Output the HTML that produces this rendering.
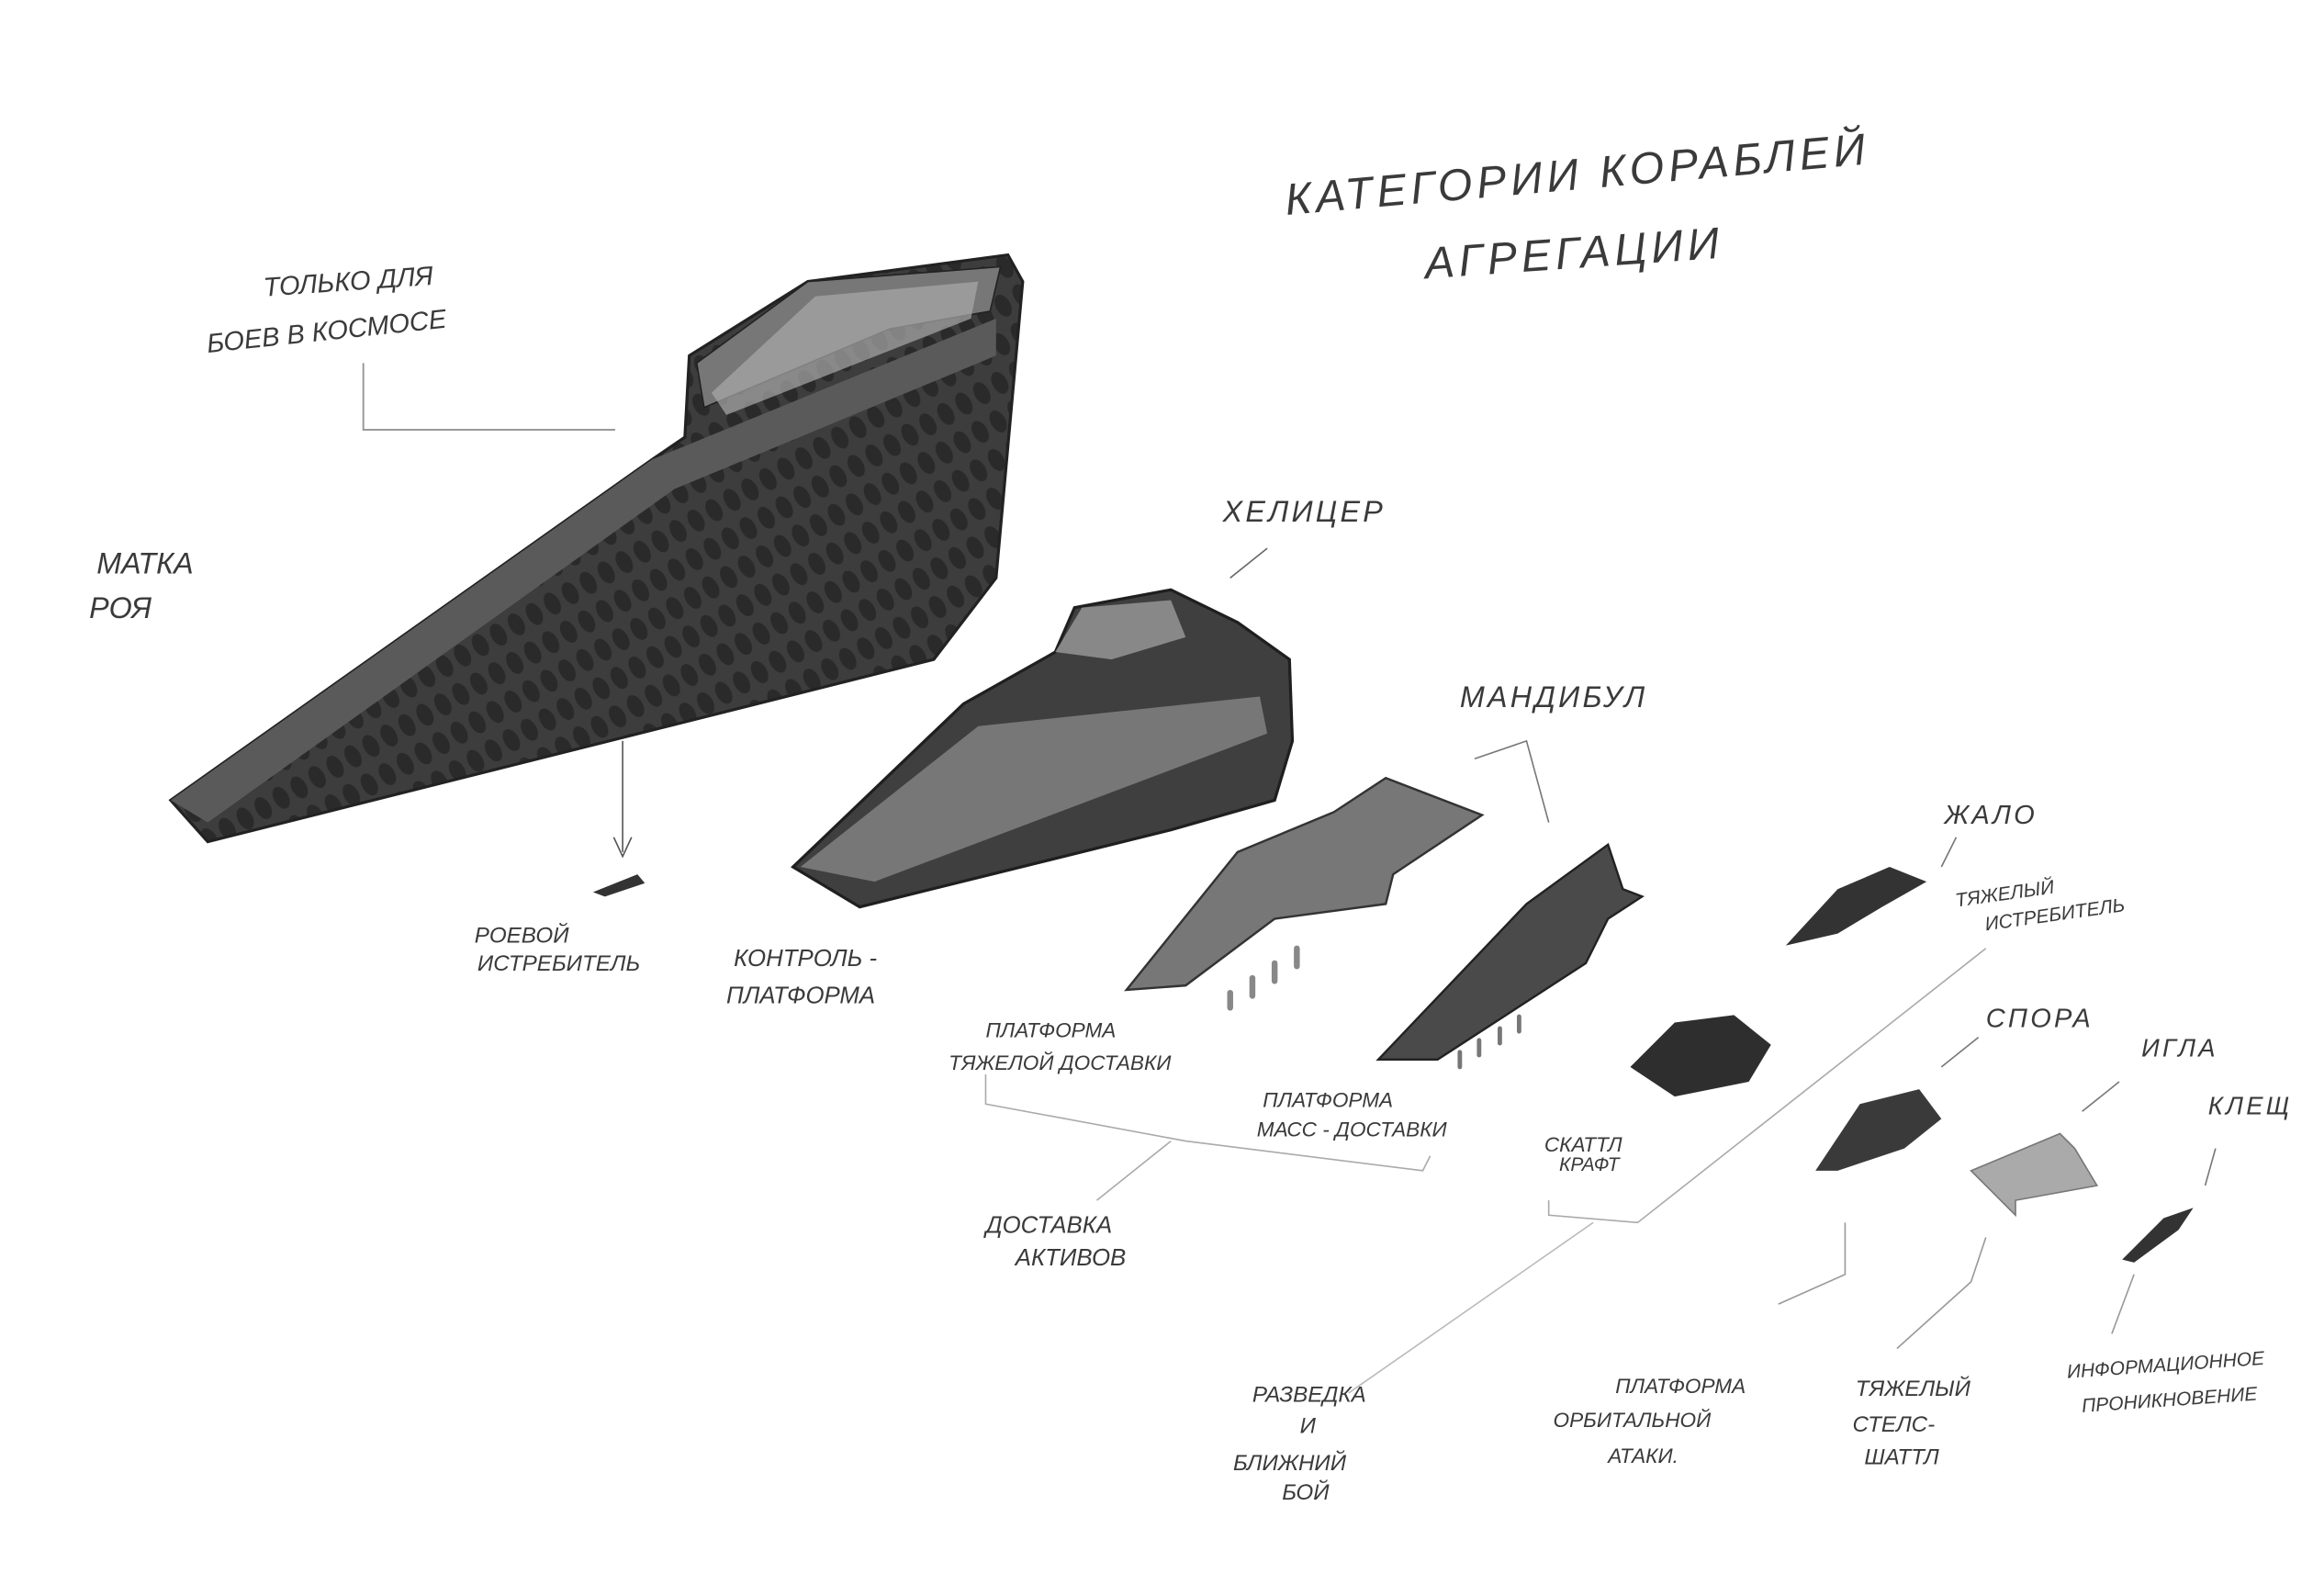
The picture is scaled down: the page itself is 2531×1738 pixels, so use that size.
<!DOCTYPE html>
<html><head><meta charset="utf-8"><style>
html,body{margin:0;padding:0;background:#fff;}
svg{display:block;}
text{font-family:"Liberation Sans","Noto Sans CJK SC",sans-serif;fill:#3a3a3a;font-style:italic;}
</style></head><body>
<svg width="2531" height="1738" viewBox="0 0 1568 1077" xmlns="http://www.w3.org/2000/svg">
<defs>
<pattern id="sc" width="14" height="22" patternUnits="userSpaceOnUse" patternTransform="rotate(-30)">
<rect width="14" height="22" fill="#3d3d3d"/>
<ellipse cx="7" cy="11" rx="5" ry="8" fill="#2a2a2a"/>
</pattern>
</defs>
<rect width="1568" height="1077" fill="#fff"/>
<!-- titles -->
<text x="868" y="145" font-size="30" transform="rotate(-5 868 145)" letter-spacing="3">КАТЕГОРИИ КОРАБЛЕЙ</text>
<text x="962" y="188" font-size="30" transform="rotate(-4 962 188)" letter-spacing="3">АГРЕГАЦИИ</text>
<text x="178" y="200" font-size="18" transform="rotate(-4 178 200)">ТОЛЬКО ДЛЯ</text>
<text x="140" y="238" font-size="18" transform="rotate(-6 140 238)">БОЕВ В КОСМОСЕ</text>
<polyline points="245,245 245,290 415,290" fill="none" stroke="#999" stroke-width="1.2"/>
<text x="65" y="387" font-size="20">МАТКА</text>
<text x="60" y="417" font-size="20">РОЯ</text>
<!-- mother ship -->
<polygon points="115,540 440,310 462,295 465,240 545,190 680,172 690,190 672,390 630,445 140,568" fill="url(#sc)" stroke="#222" stroke-width="2"/>
<polygon points="115,540 440,310 672,215 672,240 455,330 140,555" fill="#5a5a5a"/>
<polygon points="470,245 545,190 675,180 668,210 600,222 475,275" fill="#777" stroke="#222"/>
<polygon points="480,265 550,200 660,190 655,215 490,280" fill="#aaa" opacity="0.7"/>
<line x1="420" y1="500" x2="420" y2="575" stroke="#555"/>
<polyline points="414,565 420,578 426,565" fill="none" stroke="#555"/>
<polygon points="400,602 430,590 435,596 408,605" fill="#333"/>
<text x="320" y="636" font-size="15">РОЕВОЙ</text>
<text x="322" y="655" font-size="15">ИСТРЕБИТЕЛЬ</text>
<!-- control platform -->
<polygon points="535,585 650,475 712,440 725,410 790,398 835,420 870,445 872,500 860,540 790,560 580,612" fill="#3f3f3f" stroke="#1f1f1f" stroke-width="2"/>
<polygon points="540,585 660,490 850,470 855,495 590,595" fill="#777"/>
<polygon points="712,440 730,410 790,405 800,430 750,445" fill="#888"/>
<text x="825" y="352" font-size="20" letter-spacing="2">ХЕЛИЦЕР</text>
<line x1="855" y1="370" x2="830" y2="390" stroke="#666"/>
<text x="495" y="652" font-size="16">КОНТРОЛЬ -</text>
<text x="490" y="677" font-size="16">ПЛАТФОРМА</text>
<!-- heavy delivery -->
<polygon points="760,668 835,575 900,548 935,525 1000,550 940,590 935,610 860,620 800,665" fill="#777" stroke="#333" stroke-width="1.5"/>
<g stroke="#888" stroke-width="4" stroke-linecap="round"><line x1="830" y1="670" x2="830" y2="680"/><line x1="845" y1="660" x2="845" y2="672"/><line x1="860" y1="650" x2="860" y2="662"/><line x1="875" y1="640" x2="875" y2="652"/></g>
<text x="665" y="700" font-size="14">ПЛАТФОРМА</text>
<text x="640" y="722" font-size="14">ТЯЖЕЛОЙ ДОСТАВКИ</text>
<!-- mass delivery -->
<polygon points="930,715 1030,610 1085,570 1095,600 1108,605 1085,620 1070,650 970,715" fill="#4a4a4a" stroke="#222" stroke-width="1.5"/>
<g stroke="#777" stroke-width="3" stroke-linecap="round"><line x1="985" y1="710" x2="985" y2="720"/><line x1="998" y1="702" x2="998" y2="712"/><line x1="1012" y1="694" x2="1012" y2="704"/><line x1="1025" y1="686" x2="1025" y2="696"/></g>
<text x="985" y="477" font-size="20" letter-spacing="2">МАНДИБУЛ</text>
<polyline points="995,512 1030,500 1045,555" fill="none" stroke="#777"/>
<text x="852" y="747" font-size="14">ПЛАТФОРМА</text>
<text x="848" y="767" font-size="14">МАСС - ДОСТАВКИ</text>
<polyline points="665,725 665,745 800,770 960,790 965,780" fill="none" stroke="#aaa"/>
<line x1="790" y1="770" x2="740" y2="810" stroke="#aaa"/>
<text x="665" y="832" font-size="16">ДОСТАВКА</text>
<text x="685" y="854" font-size="16">АКТИВОВ</text>
<!-- жало -->
<polygon points="1205,638 1240,600 1275,585 1300,595 1270,612 1240,630" fill="#333"/>
<text x="1312" y="556" font-size="18" letter-spacing="2">ЖАЛО</text>
<line x1="1320" y1="565" x2="1310" y2="585" stroke="#777"/>
<text x="1320" y="612" font-size="13" transform="rotate(-8 1320 612)">ТЯЖЕЛЫЙ</text>
<text x="1340" y="628" font-size="13" transform="rotate(-8 1340 628)">ИСТРЕБИТЕЛЬ</text>
<!-- scuttle -->
<polygon points="1100,720 1130,690 1170,685 1195,705 1180,730 1130,740" fill="#2e2e2e"/>
<text x="1042" y="777" font-size="14">СКАТТЛ</text>
<text x="1052" y="790" font-size="13">КРАФТ</text>
<polyline points="1045,810 1045,820 1105,825 1340,640" fill="none" stroke="#aaa"/>
<line x1="1075" y1="825" x2="910" y2="940" stroke="#bbb"/>
<text x="845" y="946" font-size="15">РАЗВЕДКА</text>
<text x="877" y="967" font-size="15">И</text>
<text x="832" y="992" font-size="15">БЛИЖНИЙ</text>
<text x="865" y="1012" font-size="15">БОЙ</text>
<!-- spora -->
<polygon points="1225,790 1255,745 1295,735 1310,755 1285,775 1240,790" fill="#3a3a3a"/>
<text x="1340" y="693" font-size="18" letter-spacing="2">СПОРА</text>
<line x1="1335" y1="700" x2="1310" y2="720" stroke="#777"/>
<polyline points="1245,825 1245,860 1200,880" fill="none" stroke="#999"/>
<text x="1090" y="940" font-size="14">ПЛАТФОРМА</text>
<text x="1048" y="963" font-size="14">ОРБИТАЛЬНОЙ</text>
<text x="1085" y="987" font-size="14">АТАКИ.</text>
<!-- игла -->
<polygon points="1330,790 1390,765 1400,775 1415,800 1360,810 1360,820" fill="#aaa" stroke="#777"/>
<text x="1445" y="713" font-size="17" letter-spacing="2">ИГЛА</text>
<line x1="1430" y1="730" x2="1405" y2="750" stroke="#777"/>
<polyline points="1340,835 1330,865 1280,910" fill="none" stroke="#999"/>
<text x="1252" y="942" font-size="15">ТЯЖЕЛЫЙ</text>
<text x="1250" y="966" font-size="15">СТЕЛС-</text>
<text x="1258" y="988" font-size="15">ШАТТЛ</text>
<!-- клещ -->
<polygon points="1432,850 1460,822 1480,815 1470,830 1440,852" fill="#333"/>
<text x="1490" y="752" font-size="17" letter-spacing="2">КЛЕЩ</text>
<line x1="1495" y1="775" x2="1488" y2="800" stroke="#777"/>
<line x1="1440" y1="860" x2="1425" y2="900" stroke="#999"/>
<text x="1395" y="930" font-size="13" transform="rotate(-4 1395 930)">ИНФОРМАЦИОННОЕ</text>
<text x="1405" y="953" font-size="13" transform="rotate(-4 1405 953)">ПРОНИКНОВЕНИЕ</text>
</svg>
</body></html>
